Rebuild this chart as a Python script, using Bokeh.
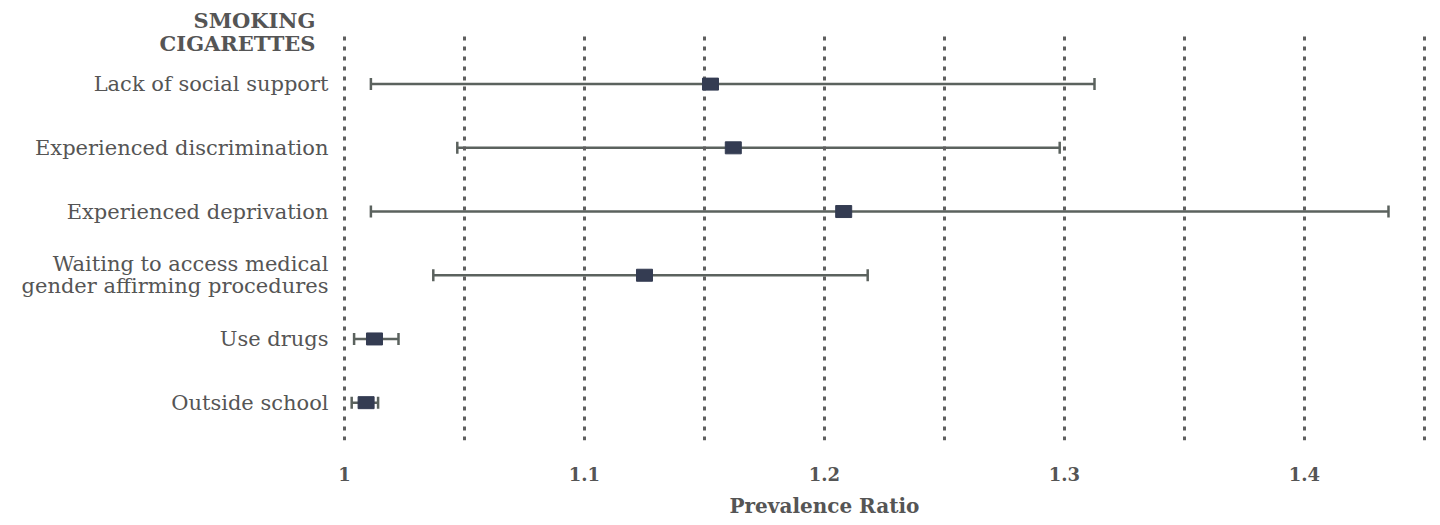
from bokeh.plotting import figure
from bokeh.models import Range1d, FixedTicker, Whisker, TeeHead, ColumnDataSource, Title
from bokeh.core.properties import value
from bokeh.embed import file_html
from bokeh.resources import INLINE

# ---- data ----
labels = ["Lack of social support", "Experienced discrimination", "Experienced deprivation",
          "Waiting to access medical\ngender affirming procedures", "Use drugs", "Outside school"]
pr = [1.1525, 1.162, 1.208, 1.125, 1.0125, 1.009]
lower = [1.011, 1.047, 1.011, 1.037, 1.004, 1.003]
upper = [1.3125, 1.298, 1.435, 1.218, 1.0225, 1.014]
ypos = [6, 5, 4, 3, 2, 1]
xticks = [1.0, 1.1, 1.2, 1.3, 1.4]
xtick_labels = {1.0: "1", 1.1: "1.1", 1.2: "1.2", 1.3: "1.3", 1.4: "1.4"}
grid_ticks = [1.0, 1.05, 1.1, 1.15, 1.2, 1.25, 1.3, 1.35, 1.4, 1.45]
title_lines = ["SMOKING", "CIGARETTES"]
x_title = "Prevalence Ratio"

FONT = "DejaVu Serif"
TXT = "#555555"
X0 = 1.0  # reference line / label anchor

src = ColumnDataSource(dict(y=ypos, pr=pr, lower=lower, upper=upper))

p = figure(width=1430, height=525, output_backend="svg", toolbar_location=None,
           x_range=Range1d(0.85667, 1.4525), y_range=Range1d(0.406, 7.3125),
           min_border_left=0, min_border_right=0, min_border_top=0, min_border_bottom=83)
p.outline_line_color = None
p.background_fill_color = "white"
p.border_fill_color = "white"
p.xgrid.grid_line_color = None
p.ygrid.grid_line_color = None
p.yaxis.visible = False

ax = p.xaxis[0]
ax.ticker = FixedTicker(ticks=xticks)
ax.major_label_overrides = xtick_labels
ax.axis_line_color = None
ax.major_tick_line_color = None
ax.minor_tick_line_color = None
ax.major_label_standoff = 20
ax.major_label_text_font = FONT
ax.major_label_text_font_style = "bold"
ax.major_label_text_font_size = "18px"
ax.major_label_text_color = TXT

xt = Title(text=x_title, align="left", offset=729, standoff=16, text_font=FONT,
           text_font_style="bold", text_font_size="20px", text_color=TXT)
p.add_layout(xt, "below")

# dotted vertical grid lines
ybot = p.y_range.start
ytop = 6.84
p.segment(x0=grid_ticks, x1=grid_ticks, y0=[ybot] * len(grid_ticks), y1=[ytop] * len(grid_ticks),
          line_color="#5f5f5f", line_dash="4 6", line_width=3)

w = Whisker(source=src, base="y", lower="lower", upper="upper", dimension="width",
            line_color="#5b625e", line_width=2.5,
            lower_head=TeeHead(size=12, line_color="#5b625e", line_width=2.5),
            upper_head=TeeHead(size=12, line_color="#5b625e", line_width=2.5))
p.add_layout(w)

p.rect(x="pr", y="y", width=16, height=12, width_units="screen", height_units="screen",
       source=src, fill_color="#343c52", line_color="#343c52")

# row labels
lx, ly, lyo, lt = [], [], [], []
for lab, y in zip(labels, ypos):
    lines = lab.split("\n")
    n = len(lines)
    for i, ln in enumerate(lines):
        lx.append(X0)
        ly.append(y)
        lyo.append(-11 * (n - 1) + 22 * i)
        lt.append(ln)
p.text(x=lx, y=ly, text=lt, y_offset=lyo, x_offset=-16, text_align="right",
       text_baseline="middle", text_font=value(FONT), text_font_size="21px", text_color=TXT)

# section title
p.text(x=[X0] * len(title_lines), y=[ypos[0]] * len(title_lines), text=title_lines,
       x_offset=-29, y_offset=[-64 + 23 * i for i in range(len(title_lines))],
       text_align="right", text_baseline="middle", text_font=value(FONT),
       text_font_style="bold", text_font_size="21px", text_color=TXT)

open("out.html", "w").write(file_html(p, INLINE))
